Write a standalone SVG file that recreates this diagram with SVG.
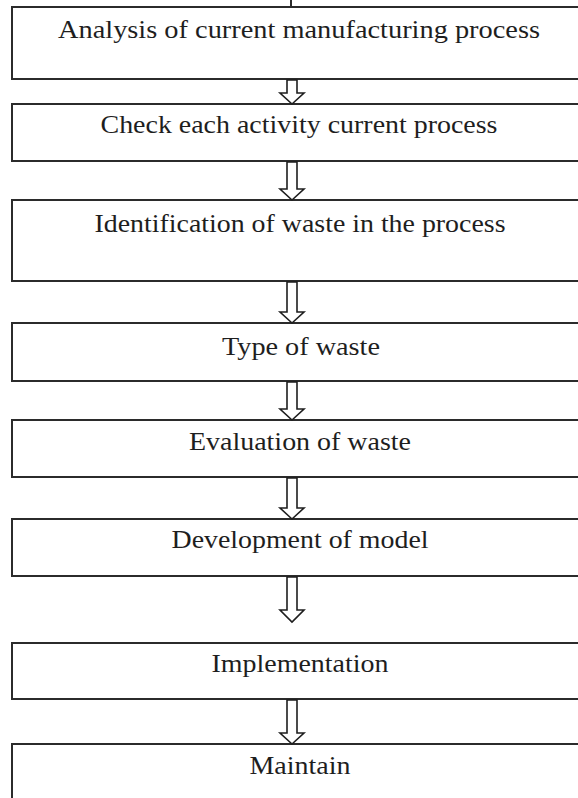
<svg xmlns="http://www.w3.org/2000/svg" width="578" height="798" viewBox="0 0 578 798">
<style>
.box{fill:#ffffff;stroke:#2b2b2b;stroke-width:2}
.lbl{font-family:"Liberation Serif","Times New Roman",serif;font-size:25px;fill:#1e1e1e;text-anchor:middle}
.arr{fill:#ffffff;stroke:#1e1e1e;stroke-width:1.6;stroke-linejoin:miter}
</style>
<rect width="578" height="798" fill="#ffffff"/>
<line x1="291" y1="0" x2="291" y2="7" stroke="#2b2b2b" stroke-width="2"/>
<g id="n1"><rect class="box" x="12" y="7" width="590" height="72"/><text class="lbl" x="299" y="38" textLength="482" lengthAdjust="spacingAndGlyphs">Analysis of current manufacturing process</text></g>
<g id="n2"><rect class="box" x="12" y="104" width="590" height="57"/><text class="lbl" x="299" y="133" textLength="397" lengthAdjust="spacingAndGlyphs">Check each activity current process</text></g>
<g id="n3"><rect class="box" x="12" y="200" width="590" height="81"/><text class="lbl" x="300" y="232" textLength="411" lengthAdjust="spacingAndGlyphs">Identification of waste in the process</text></g>
<g id="n4"><rect class="box" x="12" y="323" width="590" height="58"/><text class="lbl" x="301" y="355" textLength="158" lengthAdjust="spacingAndGlyphs">Type of waste</text></g>
<g id="n5"><rect class="box" x="12" y="420" width="590" height="57"/><text class="lbl" x="300" y="450" textLength="222" lengthAdjust="spacingAndGlyphs">Evaluation of waste</text></g>
<g id="n6"><rect class="box" x="12" y="519" width="590" height="57"/><text class="lbl" x="300" y="548" textLength="257" lengthAdjust="spacingAndGlyphs">Development of model</text></g>
<g id="n7"><rect class="box" x="12" y="643" width="590" height="56"/><text class="lbl" x="300" y="672" textLength="177" lengthAdjust="spacingAndGlyphs">Implementation</text></g>
<g id="n8"><rect class="box" x="12" y="744" width="590" height="70"/><text class="lbl" x="300" y="774" textLength="101" lengthAdjust="spacingAndGlyphs">Maintain</text></g>
<g id="connectors">
<path class="arr" d="M287,80 V93 H280 L292,104 L304,93 H297 V80 Z"/>
<path class="arr" d="M287,162 V189 H280 L292,200 L304,189 H297 V162 Z"/>
<path class="arr" d="M287,282 V312 H280 L292,323 L304,312 H297 V282 Z"/>
<path class="arr" d="M287,382 V409 H280 L292,420 L304,409 H297 V382 Z"/>
<path class="arr" d="M287,478 V508 H280 L292,519 L304,508 H297 V478 Z"/>
<path class="arr" d="M287,577 V610 H280 L292,622 L304,610 H297 V577 Z"/>
<path class="arr" d="M287,700 V733 H280 L292,744 L304,733 H297 V700 Z"/>
</g>
</svg>
